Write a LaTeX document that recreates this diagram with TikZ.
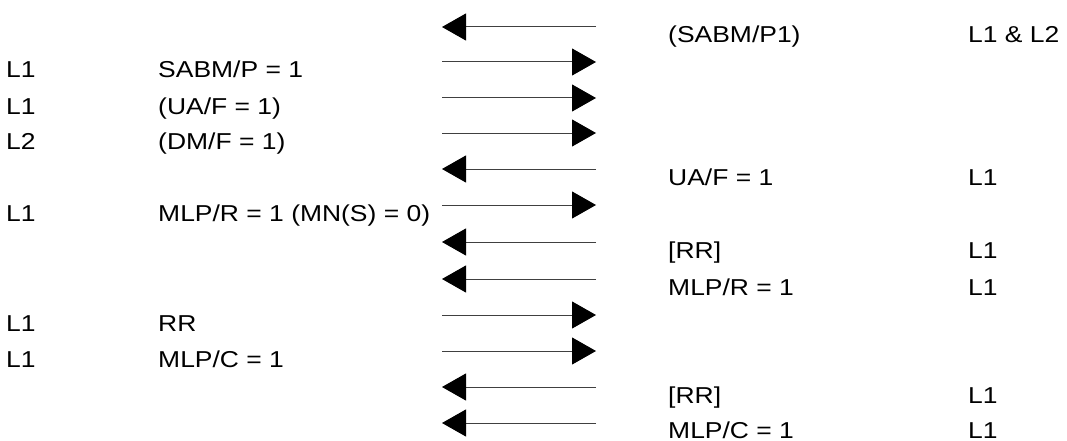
\documentclass[tikz,border=0pt]{standalone}
\usepackage{fontspec}
\setmainfont{Liberation Sans}
\usetikzlibrary{arrows.meta}
\tikzset{
  msg/.style={draw=black!75, line width=1pt, -{Triangle[length=24pt,width=27pt,color=black]}},
  lbl/.style={anchor=base west, inner sep=0pt, xscale=1.15, font=\fontsize{23}{27}\selectfont},
}
\begin{document}
\begin{tikzpicture}[x=1pt,y=-1pt]
	\useasboundingbox (0,0) rectangle (1067,441);
	% end points of the message arrows
	\foreach \i/\y in {1/27,2/62,3/98,4/133,5/169,6/205,7/242,8/279,9/315,10/351,11/387,12/423}{
		\coordinate (a\i) at (442,\y);
		\coordinate (b\i) at (596,\y);
	}
	% arrows to the left and to the right
	\foreach \i in {1,5,7,8,11,12}
		\draw[msg] (b\i) -- (a\i);
	\foreach \i in {2,3,4,6,9,10}
		\draw[msg] (a\i) -- (b\i);
	% left side labels
	\node[lbl] (lka) at (6,78) {L1};
	\node[lbl] (lfa) at (158,78) {SABM/P = 1};
	\node[lbl] (lkb) at (6,114) {L1};
	\node[lbl] (lfb) at (158,114) {(UA/F = 1)};
	\node[lbl] (lkc) at (6,149) {L2};
	\node[lbl] (lfc) at (158,149) {(DM/F = 1)};
	\node[lbl] (lkd) at (6,221) {L1};
	\node[lbl] (lfd) at (158,221) {MLP/R = 1 (MN(S) = 0)};
	\node[lbl] (lke) at (6,331) {L1};
	\node[lbl] (lfe) at (158,331) {RR};
	\node[lbl] (lkf) at (6,367) {L1};
	\node[lbl] (lff) at (158,367) {MLP/C = 1};
	% right side labels
	\node[lbl] (rfa) at (668,43) {(SABM/P1)};
	\node[lbl] (rka) at (968,43) {L1 \& L2};
	\node[lbl] (rfb) at (668,185) {UA/F = 1};
	\node[lbl] (rkb) at (968,185) {L1};
	\node[lbl] (rfc) at (668,258) {[RR]};
	\node[lbl] (rkc) at (968,258) {L1};
	\node[lbl] (rfd) at (668,295) {MLP/R = 1};
	\node[lbl] (rkd) at (968,295) {L1};
	\node[lbl] (rfe) at (668,403) {[RR]};
	\node[lbl] (rke) at (968,403) {L1};
	\node[lbl] (rff) at (668,438) {MLP/C = 1};
	\node[lbl] (rkf) at (968,438) {L1};
\end{tikzpicture}
\end{document}
